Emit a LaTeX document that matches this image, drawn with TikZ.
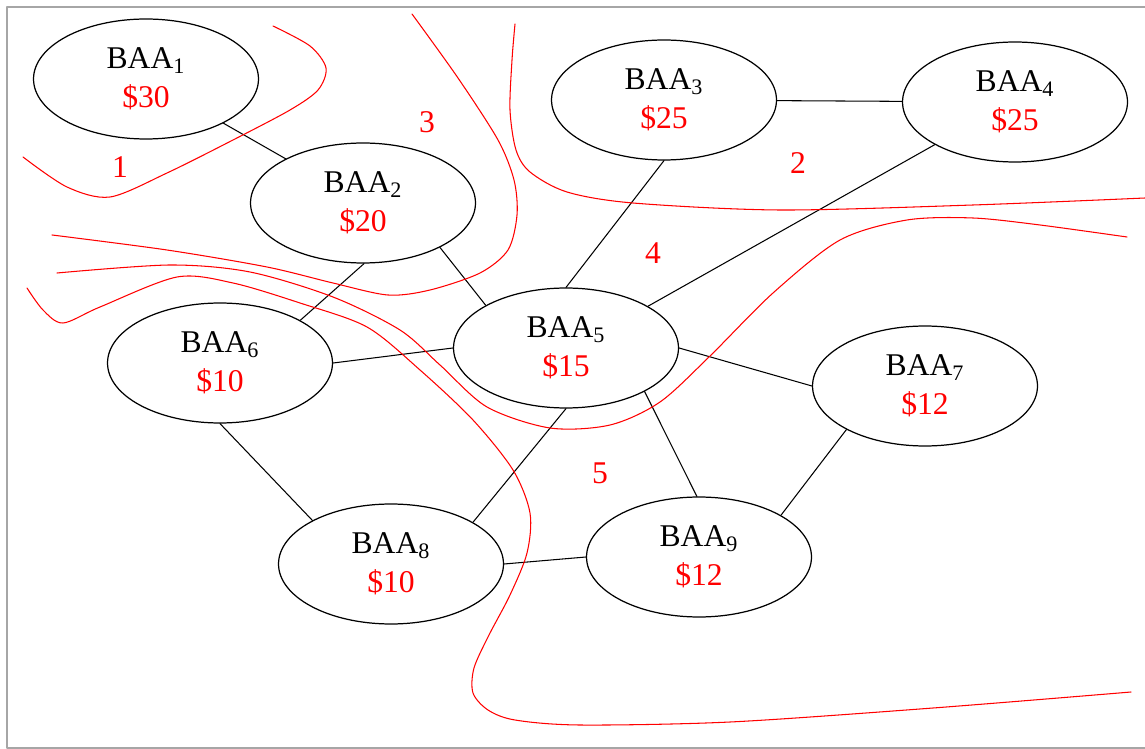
\documentclass[tikz,border=0pt]{standalone}
\usepackage{fontspec}
\setmainfont{Liberation Serif}
\usetikzlibrary{shapes.geometric}

\begin{document}
\begin{tikzpicture}[x=0.02cm, y=-0.02cm, line join=round, line cap=round,
		font=\fontsize{18}{22}\selectfont,
		baa/.style={ellipse, draw, line width=0.7pt, minimum width=4.5cm, minimum height=2.4cm, inner sep=0pt, align=center},
		cut/.style={red, line width=0.6pt},
		region/.style={red, inner sep=0pt}]
	\useasboundingbox (0,0) rectangle (1145,749);
	\draw[gray!70, line width=1pt] (1145,7) -- (7,7) -- (7,748) -- (1145,748);
	% cac nut
	\node[baa] (baa1) at (146,79) {BAA\textsubscript{1}\\\textcolor{red}{\$30}};
	\node[baa] (baa2) at (363,203) {BAA\textsubscript{2}\\\textcolor{red}{\$20}};
	\node[baa] (baa3) at (664,100) {BAA\textsubscript{3}\\\textcolor{red}{\$25}};
	\node[baa] (baa4) at (1015,102) {BAA\textsubscript{4}\\\textcolor{red}{\$25}};
	\node[baa] (baa5) at (566,348) {BAA\textsubscript{5}\\\textcolor{red}{\$15}};
	\node[baa] (baa6) at (220,363) {BAA\textsubscript{6}\\\textcolor{red}{\$10}};
	\node[baa] (baa7) at (925,386) {BAA\textsubscript{7}\\\textcolor{red}{\$12}};
	\node[baa] (baa8) at (391,564) {BAA\textsubscript{8}\\\textcolor{red}{\$10}};
	\node[baa] (baa9) at (699,557) {BAA\textsubscript{9}\\\textcolor{red}{\$12}};
	% cac canh
	\draw[line width=0.6pt] (baa1) -- (baa2);
	\draw[line width=0.6pt] (baa3) -- (baa4);
	\draw[line width=0.6pt] (baa2.-30) -- (baa5.152);
	\draw[line width=0.6pt] (baa6.28) -- (baa2.-89);
	\draw[line width=0.6pt] (baa3.south) -- (baa5.north);
	\draw[line width=0.6pt] (baa4.208) -- (baa5.27);
	\draw[line width=0.6pt] (baa6.east) -- (baa5.west);
	\draw[line width=0.6pt] (baa5.east) -- (baa7.west);
	\draw[line width=0.6pt] (baa5.south) -- (baa8.27);
	\draw[line width=0.6pt] (baa5.-29) -- (baa9.92);
	\draw[line width=0.6pt] (baa6.south) -- (baa8.151);
	\draw[line width=0.6pt] (baa8.east) -- (baa9.west);
	\draw[line width=0.6pt] (baa7.-151) -- (baa9.27);
	% duong cat
	\draw[cut] plot[smooth] coordinates {(273,26) (310,46) (326,68) (318,90) (290,110) (233,140) (167,173) (110,197) (67,187) (23,157)};
	\draw[cut] plot[smooth] coordinates {(412,14) (458,78) (498,140) (514,180) (517,215) (508,250) (480,273) (430,290) (388,295) (333,283) (267,267) (167,250) (52,235)};
	\draw[cut] plot[smooth] coordinates {(27,288) (43,310) (63,323) (100,307) (177,277) (233,283) (300,303) (367,327) (420,370) (473,420) (513,470) (530,513) (527,553) (510,595) (489,635) (474,668) (473,693) (488,710) (515,720) (580,725) (730,722) (933,708) (1131,692)};
	\draw[cut] plot[smooth] coordinates {(57,273) (170,265) (250,272) (333,297) (400,330) (440,365) (487,407) (550,428) (610,425) (660,402) (710,356) (773,293) (840,240) (907,220) (973,218) (1040,225) (1127,237)};
	\draw[cut] plot[smooth] coordinates {(515,24) (512,60) (510,110) (516,150) (530,172) (567,192) (633,203) (780,210) (973,205) (1145,198)};
	% so vung
	\node[region] (r1) at (120,167) {1};
	\node[region] (r2) at (798,163) {2};
	\node[region] (r3) at (427,122) {3};
	\node[region] (r4) at (653,253) {4};
	\node[region] (r5) at (600,473) {5};
\end{tikzpicture}
\end{document}
